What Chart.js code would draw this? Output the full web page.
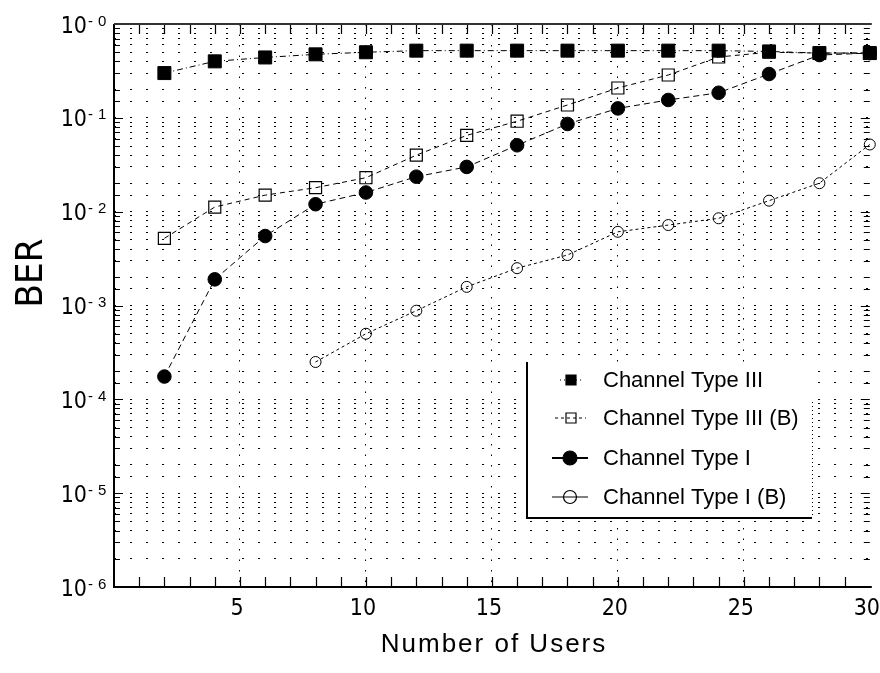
<!DOCTYPE html>
<html>
<head>
<meta charset="utf-8">
<script src="https://cdn.jsdelivr.net/npm/chart.js@4/dist/chart.umd.min.js"></script>
<style>
  html, body { margin: 0; padding: 0; background: #fff; }
  canvas { display: block; }
</style>
</head>
<body>
<canvas id="ber" width="880" height="673"></canvas>
<script>
// Number of users simulated
const users = [2, 4, 6, 8, 10, 12, 14, 16, 18, 20, 22, 24, 26, 28, 30];
const usersType1B = [8, 10, 12, 14, 16, 18, 20, 22, 24, 26, 28, 30];

// Bit error rate per channel type
const berType3  = [0.30, 0.40, 0.44, 0.475, 0.50, 0.52, 0.52, 0.52, 0.52, 0.52, 0.52, 0.52, 0.51, 0.49, 0.49];
const berType3B = [0.0052, 0.0112, 0.015, 0.018, 0.023, 0.040, 0.065, 0.092, 0.137, 0.208, 0.286, 0.445, 0.50, 0.49, 0.49];
const berType1  = [1.75e-4, 1.9e-3, 5.5e-3, 0.012, 0.016, 0.0236, 0.030, 0.051, 0.086, 0.126, 0.155, 0.185, 0.293, 0.467, 0.49];
const berType1B = [2.5e-4, 5.0e-4, 8.8e-4, 1.58e-3, 2.5e-3, 3.45e-3, 6.1e-3, 7.2e-3, 8.5e-3, 0.0131, 0.0201, 0.052];

const seriesNames = ['Channel Type III', 'Channel Type III (B)', 'Channel Type I', 'Channel Type I (B)'];
const xTickLabels = [5, 10, 15, 20, 25, 30];
const yExponents = [0, -1, -2, -3, -4, -5, -6];
const xTitle = 'Number of Users';
const yTitle = 'BER';

const NARROW = '"Liberation Sans Narrow", "Arial Narrow", "DejaVu Sans Condensed", "Liberation Sans", sans-serif';
const SANS = '"Liberation Sans", Arial, Helvetica, sans-serif';

const pairs = (xs, ys) => xs.map((x, i) => ({ x, y: ys[i] }));

// Inward tick marks, axis frame and axis text
const framePlugin = {
  id: 'frame',
  beforeDatasetsDraw(chart) {
    const { ctx, chartArea: a, scales: { x, y } } = chart;
    ctx.save();
    ctx.strokeStyle = '#000';
    ctx.lineWidth = 1.2;
    // x ticks on bottom and top edges
    for (let v = 1; v < 30; v++) {
      const px = Math.round(x.getPixelForValue(v)) + 0.5;
      ctx.beginPath();
      ctx.moveTo(px, a.bottom); ctx.lineTo(px, a.bottom - 10);
      ctx.moveTo(px, a.top); ctx.lineTo(px, a.top + 10);
      ctx.stroke();
    }
    // y ticks on left and right edges
    y.ticks.forEach(t => {
      const py = Math.round(y.getPixelForValue(t.value)) + 0.5;
      const dec = Math.abs(Math.log10(t.value) - Math.round(Math.log10(t.value))) < 1e-6;
      const len = dec ? 9 : 6;
      ctx.beginPath();
      ctx.moveTo(a.left, py); ctx.lineTo(a.left + len, py);
      ctx.moveTo(a.right, py); ctx.lineTo(a.right - len, py);
      ctx.stroke();
    });
    // frame
    ctx.lineWidth = 2;
    ctx.beginPath();
    ctx.moveTo(a.left, a.top); ctx.lineTo(a.left, a.bottom);
    ctx.lineTo(a.right + 2, a.bottom);
    ctx.stroke();
    ctx.strokeStyle = '#333';
    ctx.beginPath();
    ctx.moveTo(a.left, a.top); ctx.lineTo(a.right + 2, a.top);
    ctx.stroke();

    // y tick labels: 10 with a raised exponent
    ctx.fillStyle = '#000';
    yExponents.forEach(e => {
      const py = y.getPixelForValue(Math.pow(10, e));
      ctx.font = '23px ' + NARROW;
      ctx.textAlign = 'right';
      ctx.textBaseline = 'alphabetic';
      ctx.fillText('10', 87, py + 8.5);
      ctx.font = '15px ' + SANS;
      ctx.textAlign = 'left';
      ctx.fillText('-', 88, py + 1.5);
      ctx.fillText(String(Math.abs(e)), 98, py + 1.5);
    });

    // axis titles
    ctx.font = '26px ' + SANS;
    ctx.textAlign = 'center';
    ctx.textBaseline = 'alphabetic';
    ctx.letterSpacing = '2px';
    ctx.fillText(xTitle, 494, 652);
    ctx.letterSpacing = '0px';
    ctx.save();
    ctx.translate(42, 273);
    ctx.rotate(-Math.PI / 2);
    ctx.font = '38px ' + NARROW;
    ctx.fillText(yTitle, 0, 0);
    ctx.restore();
    ctx.restore();
  }
};

// Boxed legend inside the plot area
const legendPlugin = {
  id: 'boxLegend',
  afterDatasetsDraw(chart) {
    const { ctx } = chart;
    const box = { l: 527, t: 362, r: 812, b: 518 };
    ctx.save();
    ctx.fillStyle = '#fff';
    ctx.fillRect(box.l, box.t, box.r - box.l, box.b - box.t);
    ctx.strokeStyle = '#000';
    ctx.lineWidth = 2;
    ctx.beginPath();
    ctx.moveTo(box.l, box.t); ctx.lineTo(box.l, box.b); ctx.lineTo(box.r, box.b);
    ctx.stroke();
    ctx.lineWidth = 1;
    ctx.setLineDash([1, 3]);
    ctx.beginPath();
    ctx.moveTo(box.r + 0.5, box.t + 40); ctx.lineTo(box.r + 0.5, box.b);
    ctx.stroke();
    ctx.setLineDash([]);

    const rows = [380, 418, 458, 497];
    chart.data.datasets.forEach((ds, i) => {
      const cy = rows[i];
      const lg = ds.legendStyle;
      ctx.strokeStyle = '#000';
      ctx.lineWidth = lg.lineWidth;
      ctx.setLineDash(lg.dash);
      ctx.beginPath();
      ctx.moveTo(lg.x0, cy); ctx.lineTo(lg.x1, cy);
      ctx.stroke();
      ctx.setLineDash([]);
      ctx.lineWidth = 1.2;
      ctx.beginPath();
      if (ds.pointStyle === 'rect') {
        const h = lg.size / 2;
        ctx.rect(571 - h, cy - h, lg.size, lg.size);
      } else {
        ctx.arc(570, cy, lg.size / 2, 0, Math.PI * 2);
      }
      if (lg.filled) { ctx.fillStyle = '#000'; ctx.fill(); }
      ctx.stroke();
      ctx.fillStyle = '#000';
      ctx.font = '22px ' + SANS;
      ctx.textAlign = 'left';
      ctx.textBaseline = 'middle';
      ctx.fillText(ds.label, 603, cy + 1);
    });
    ctx.restore();
  }
};

new Chart(document.getElementById('ber'), {
  type: 'line',
  data: {
    datasets: [
      {
        label: seriesNames[0], data: pairs(users, berType3),
        borderColor: '#000', borderWidth: 1, borderDash: [6, 3, 1, 3],
        pointStyle: 'rect', pointRadius: 9.2, pointBackgroundColor: '#000', pointBorderColor: '#000', pointBorderWidth: 1,
        clip: false,
        legendStyle: { x0: 560, x1: 584, dash: [1, 3], lineWidth: 1, size: 10, filled: true }
      },
      {
        label: seriesNames[1], data: pairs(users, berType3B),
        borderColor: '#000', borderWidth: 1, borderDash: [5, 4],
        pointStyle: 'rect', pointRadius: 8.5, pointBackgroundColor: 'rgba(0,0,0,0)', pointBorderColor: '#000', pointBorderWidth: 1.2,
        clip: false,
        legendStyle: { x0: 555, x1: 586, dash: [3, 3], lineWidth: 1, size: 10, filled: false }
      },
      {
        label: seriesNames[2], data: pairs(users, berType1),
        borderColor: '#000', borderWidth: 1, borderDash: [6, 4],
        pointStyle: 'circle', pointRadius: 6.8, pointBackgroundColor: '#000', pointBorderColor: '#000', pointBorderWidth: 1,
        clip: false,
        legendStyle: { x0: 552, x1: 588, dash: [], lineWidth: 2, size: 14, filled: true }
      },
      {
        label: seriesNames[3], data: pairs(usersType1B, berType1B),
        borderColor: '#000', borderWidth: 1, borderDash: [3, 3],
        pointStyle: 'circle', pointRadius: 5.5, pointBackgroundColor: 'rgba(0,0,0,0)', pointBorderColor: '#000', pointBorderWidth: 1,
        clip: false,
        legendStyle: { x0: 552, x1: 588, dash: [], lineWidth: 1, size: 13, filled: false }
      }
    ]
  },
  options: {
    responsive: false,
    animation: false,
    events: [],
    devicePixelRatio: 1,
    layout: { padding: { top: 24, right: 9, bottom: 0, left: 0 } },
    plugins: { legend: { display: false }, tooltip: { enabled: false }, title: { display: false } },
    elements: { line: { tension: 0 } },
    scales: {
      x: {
        type: 'linear', min: 0, max: 30,
        afterFit(s) { s.height = 86; s.paddingLeft = 0; s.paddingRight = 0; },
        ticks: {
          stepSize: 1, autoSkip: false, maxRotation: 0, minRotation: 0,
          labelOffset: -3, padding: 8, color: '#000',
          font: { family: NARROW, size: 23 },
          callback: v => (xTickLabels.includes(v) ? String(v) : '')
        },
        grid: {
          drawTicks: false, lineWidth: 1,
          color: c => (c.tick && xTickLabels.includes(c.tick.value) && c.tick.value < 30 ? '#000' : 'rgba(0,0,0,0)')
        },
        border: { display: false, dash: [1.5, 9] }
      },
      y: {
        type: 'logarithmic', min: 1e-6, max: 1,
        afterFit(s) { s.width = 114; s.paddingTop = 0; s.paddingBottom = 0; },
        ticks: { display: false },
        grid: { drawTicks: false, color: '#000', lineWidth: 1 },
        border: { display: false, dash: [2, 14] }
      }
    }
  },
  plugins: [framePlugin, legendPlugin]
});
</script>
</body>
</html>
